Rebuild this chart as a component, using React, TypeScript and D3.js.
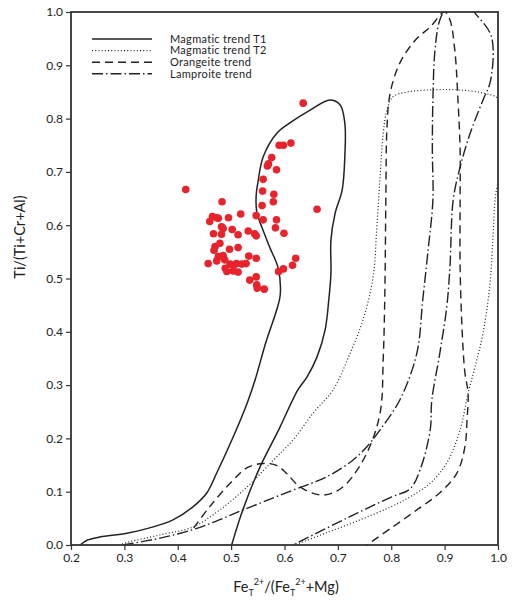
import * as d3 from "d3";
import { useEffect, useRef } from "react";

// trend envelopes, [Fe/(Fe+Mg), Ti/(Ti+Cr+Al)]
const magmaticT1: [number, number][] = [
  [0.217, 0], [0.23, 0.009], [0.254, 0.015], [0.305, 0.022], [0.354, 0.034],
  [0.391, 0.047], [0.429, 0.072], [0.454, 0.097], [0.473, 0.135], [0.504, 0.203],
  [0.53, 0.266], [0.545, 0.31], [0.565, 0.38], [0.585, 0.44], [0.592, 0.469],
  [0.588, 0.52], [0.573, 0.557], [0.558, 0.595], [0.548, 0.625], [0.547, 0.657],
  [0.55, 0.679], [0.56, 0.728], [0.586, 0.773], [0.61, 0.792], [0.648, 0.816],
  [0.685, 0.835], [0.704, 0.826], [0.713, 0.792], [0.713, 0.728], [0.708, 0.666],
  [0.695, 0.623], [0.687, 0.572], [0.687, 0.51], [0.683, 0.46], [0.676, 0.403],
  [0.661, 0.353], [0.642, 0.315], [0.625, 0.291], [0.59, 0.218], [0.554, 0.146],
  [0.522, 0.066], [0.501, 0],
];

const magmaticT2: [number, number][] = [
  [0.29, 0], [0.31, 0.006], [0.367, 0.019], [0.429, 0.034], [0.479, 0.066],
  [0.53, 0.109], [0.579, 0.159], [0.616, 0.197], [0.654, 0.248], [0.691, 0.291],
  [0.723, 0.36], [0.747, 0.422], [0.766, 0.503], [0.773, 0.597], [0.779, 0.69],
  [0.785, 0.773], [0.792, 0.816], [0.803, 0.841], [0.83, 0.85], [0.878, 0.854],
  [0.923, 0.854], [0.972, 0.848], [1.0, 0.838], [1.02, 0.8], [1.01, 0.72],
  [0.996, 0.66], [0.991, 0.585], [0.985, 0.49], [0.972, 0.398], [0.957, 0.334],
  [0.944, 0.285], [0.929, 0.216], [0.904, 0.154], [0.873, 0.116], [0.835, 0.09],
  [0.798, 0.071], [0.741, 0.047], [0.679, 0.023], [0.629, 0.004], [0.616, 0],
];

const orangeite: [number, number][] = [
  [0.43, 0.032], [0.46, 0.072], [0.504, 0.122], [0.53, 0.145], [0.56, 0.153],
  [0.586, 0.149], [0.604, 0.134], [0.629, 0.109], [0.666, 0.094], [0.691, 0.098],
  [0.717, 0.116], [0.754, 0.172], [0.779, 0.247], [0.785, 0.35], [0.788, 0.473],
  [0.79, 0.66], [0.792, 0.784], [0.798, 0.848], [0.816, 0.904], [0.845, 0.947],
  [0.873, 0.972], [0.9, 1.0], [0.91, 0.985], [0.919, 0.929], [0.925, 0.835],
  [0.929, 0.741], [0.929, 0.647], [0.929, 0.522], [0.933, 0.398], [0.938, 0.323],
  [0.944, 0.285], [0.942, 0.235], [0.938, 0.184], [0.923, 0.135], [0.891, 0.098],
  [0.848, 0.066], [0.803, 0.034], [0.754, 0],
];

const lamproite: [number, number][] = [
  [0.297, 0], [0.367, 0.013], [0.429, 0.029], [0.47, 0.044], [0.523, 0.066],
  [0.616, 0.103], [0.679, 0.128], [0.728, 0.159], [0.754, 0.184], [0.779, 0.216],
  [0.816, 0.272], [0.848, 0.36], [0.859, 0.46], [0.869, 0.553], [0.878, 0.647],
  [0.877, 0.74], [0.878, 0.835], [0.882, 0.929], [0.891, 0.985], [0.905, 1.01],
  [0.93, 1.03], [0.957, 0.998], [0.985, 0.961], [0.991, 0.929], [0.985, 0.867],
  [0.972, 0.835], [0.948, 0.773], [0.929, 0.709], [0.916, 0.647], [0.91, 0.522],
  [0.904, 0.447], [0.891, 0.36], [0.876, 0.272], [0.873, 0.216], [0.854, 0.141],
  [0.835, 0.105], [0.8, 0.09], [0.716, 0.05], [0.616, 0],
];

// measured spinel compositions
const samples: [number, number][] = [
  [0.635, 0.829], [0.415, 0.667], [0.59, 0.75], [0.598, 0.75], [0.612, 0.754],
  [0.576, 0.727], [0.568, 0.711], [0.57, 0.715], [0.585, 0.704], [0.56, 0.686],
  [0.559, 0.664], [0.58, 0.658], [0.579, 0.644], [0.558, 0.637], [0.661, 0.63],
  [0.483, 0.644], [0.465, 0.616], [0.473, 0.614], [0.46, 0.607], [0.476, 0.613],
  [0.495, 0.614], [0.518, 0.621], [0.547, 0.618], [0.56, 0.61], [0.585, 0.61],
  [0.583, 0.595], [0.599, 0.585], [0.482, 0.597], [0.485, 0.594], [0.502, 0.592],
  [0.467, 0.584], [0.482, 0.583], [0.513, 0.582], [0.532, 0.589], [0.544, 0.584],
  [0.547, 0.58], [0.479, 0.566], [0.47, 0.56], [0.468, 0.553], [0.497, 0.555],
  [0.513, 0.558], [0.533, 0.542], [0.547, 0.538], [0.476, 0.541], [0.485, 0.543],
  [0.488, 0.535], [0.457, 0.528], [0.473, 0.533], [0.498, 0.527], [0.504, 0.524],
  [0.51, 0.528], [0.52, 0.527], [0.528, 0.528], [0.489, 0.519], [0.492, 0.513],
  [0.504, 0.514], [0.513, 0.512], [0.535, 0.497], [0.547, 0.503], [0.548, 0.488],
  [0.549, 0.482], [0.562, 0.48], [0.589, 0.513], [0.598, 0.518], [0.615, 0.525],
  [0.621, 0.538],
];

const xTicks = [0.2, 0.3, 0.4, 0.5, 0.6, 0.7, 0.8, 0.9, 1.0];
const yTicks = [0, 0.1, 0.2, 0.3, 0.4, 0.5, 0.6, 0.7, 0.8, 0.9, 1.0];

const legendLabels = [
  "Magmatic trend T1",
  "Magmatic trend T2",
  "Orangeite trend",
  "Lamproite trend",
];

const App = () => {
  const svgRef = useRef<SVGSVGElement>(null);

  useEffect(() => {
    const svg = d3.select(svgRef.current);
    svg.selectAll("*").remove();

    const font = "Lato, 'Open Sans', sans-serif";
    const ink = "#222";

    const x = d3.scaleLinear().domain([0.2, 1]).range([71, 498]);
    const y = d3.scaleLinear().domain([0, 1]).range([545, 12]);

    svg
      .append("defs")
      .append("clipPath")
      .attr("id", "plot-clip")
      .append("rect")
      .attr("x", 71)
      .attr("y", 12)
      .attr("width", 427)
      .attr("height", 533);

    const line = d3
      .line<[number, number]>()
      .x((d) => x(d[0]))
      .y((d) => y(d[1]))
      .curve(d3.curveCatmullRom.alpha(0.5));

    const trends = [
      { data: magmaticT1, dash: null, width: 1.5 },
      { data: magmaticT2, dash: "1,2.2", width: 1.2 },
      { data: orangeite, dash: "8,5", width: 1.4 },
      { data: lamproite, dash: "11,3,1.5,3", width: 1.4 },
    ];

    const curves = svg.append("g").attr("clip-path", "url(#plot-clip)");
    trends.forEach((t) => {
      curves
        .append("path")
        .attr("d", line(t.data))
        .attr("fill", "none")
        .attr("stroke", ink)
        .attr("stroke-width", t.width)
        .attr("stroke-dasharray", t.dash);
    });

    // red sample points
    svg
      .append("g")
      .selectAll("circle")
      .data(samples)
      .join("circle")
      .attr("cx", (d) => x(d[0]))
      .attr("cy", (d) => y(d[1]))
      .attr("r", 3.8)
      .attr("fill", "#e8232b");

    // axes
    const xAxis = d3
      .axisBottom(x)
      .tickValues(xTicks)
      .tickSize(5)
      .tickPadding(3)
      .tickFormat(d3.format(".1f"));
    const gx = svg.append("g").attr("transform", "translate(0,545)").call(xAxis);

    const yAxis = d3
      .axisLeft(y)
      .tickValues(yTicks)
      .tickSize(5)
      .tickPadding(3)
      .tickFormat(d3.format(".1f"));
    const gy = svg.append("g").attr("transform", "translate(71,0)").call(yAxis);

    [gx, gy].forEach((g) => {
      g.select(".domain").remove();
      g.selectAll(".tick line").attr("stroke", "#333").attr("stroke-width", 1.2);
      g.selectAll(".tick text")
        .attr("fill", ink)
        .attr("font-family", font)
        .attr("font-size", 12);
    });

    svg
      .append("rect")
      .attr("x", 71)
      .attr("y", 12)
      .attr("width", 427)
      .attr("height", 533)
      .attr("fill", "none")
      .attr("stroke", "#333")
      .attr("stroke-width", 1.8);

    // legend
    const legend = svg.append("g");
    trends.forEach((t, i) => {
      const ly = 39 + i * 11.6;
      legend
        .append("line")
        .attr("x1", 92)
        .attr("x2", 152)
        .attr("y1", ly)
        .attr("y2", ly)
        .attr("stroke", ink)
        .attr("stroke-width", t.width)
        .attr("stroke-dasharray", t.dash);
      legend
        .append("text")
        .attr("x", 170)
        .attr("y", ly + 3.8)
        .attr("font-family", font)
        .attr("font-size", 11)
        .attr("letter-spacing", 0.3)
        .attr("fill", ink)
        .text(legendLabels[i]);
    });

    // axis titles
    svg
      .append("text")
      .attr("transform", "translate(25,237) rotate(-90)")
      .attr("text-anchor", "middle")
      .attr("font-family", font)
      .attr("font-size", 14.5)
      .attr("fill", ink)
      .text("Ti/(Ti+Cr+Al)");

    const xt = svg
      .append("text")
      .attr("x", 286)
      .attr("y", 592)
      .attr("text-anchor", "middle")
      .attr("font-family", font)
      .attr("font-size", 14.5)
      .attr("fill", ink);
    xt.append("tspan").text("Fe");
    xt.append("tspan").attr("dy", 4).attr("font-size", 9).text("T");
    xt.append("tspan").attr("dy", -11).attr("font-size", 9).text("2+");
    xt.append("tspan").attr("dy", 7).text("/(Fe");
    xt.append("tspan").attr("dy", 4).attr("font-size", 9).text("T");
    xt.append("tspan").attr("dy", -11).attr("font-size", 9).text("2+");
    xt.append("tspan").attr("dy", 7).text("+Mg)");
  }, []);

  return (
    <svg
      ref={svgRef}
      width={513}
      height={601}
      style={{ position: "absolute", left: 0, top: 0, background: "#fff" }}
    />
  );
};

export default App;
